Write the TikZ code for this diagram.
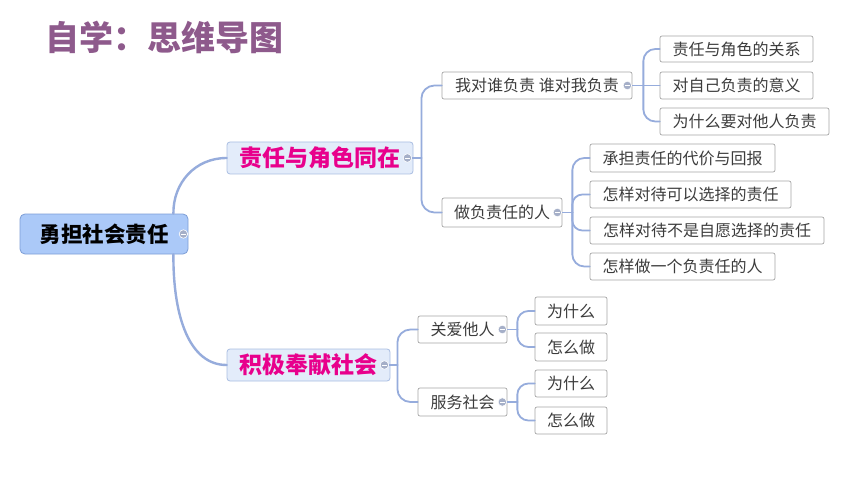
\documentclass[tikz,border=0pt]{standalone}
\usepackage{fontspec}
\setmainfont{Noto Sans CJK SC}
\usetikzlibrary{calc}
\definecolor{titlec}{RGB}{142,90,140}
\definecolor{mag}{RGB}{232,0,140}
\definecolor{rootfill}{RGB}{171,201,248}
\definecolor{rootdraw}{RGB}{125,158,214}
\definecolor{mainfill}{RGB}{227,236,250}
\definecolor{maindraw}{RGB}{170,190,226}
\definecolor{connc}{RGB}{150,172,220}
\definecolor{leafdraw}{RGB}{166,166,166}
\definecolor{leaftext}{RGB}{60,60,60}
\definecolor{knob}{RGB}{165,175,200}
\begin{document}
\begin{tikzpicture}[x=1pt,y=-1pt,
 rootbox/.style={draw=rootdraw, fill=rootfill, line width=0.8pt, rounded corners=5pt, inner sep=0pt, font=\fontsize{21.5}{24}\selectfont\bfseries, text=black},
 mainbox/.style={draw=maindraw, fill=mainfill, line width=0.8pt, rounded corners=3pt, inner sep=0pt, font=\fontsize{23}{26}\selectfont\bfseries, text=mag},
 leafbox/.style={draw=leafdraw, fill=white, line width=0.7pt, rounded corners=2pt, inner sep=0pt, font=\fontsize{16}{18}\selectfont, text=leaftext},
 knobc/.style={circle, fill=knob, draw=white, line width=0.6pt, minimum size=8.5pt, inner sep=0pt, path picture={\draw[white,line width=0.8pt] ($(path picture bounding box.west)+(2pt,0)$) -- ($(path picture bounding box.east)+(-2pt,0)$);}},
 link/.style={draw=connc, line width=1.8pt, line cap=round, rounded corners=13pt},
 mainlink/.style={draw=connc, line width=2.4pt, line cap=round},
]
\fill[white] (0,0) rectangle (860,484);
\useasboundingbox (0,0) rectangle (860,484);

\node[anchor=west, inner sep=0pt, text=titlec, font=\fontsize{34}{37}\selectfont\bfseries] (title) at (45,37) {自学：思维导图};

% boxes
\node[rootbox, minimum width=168, minimum height=40] (root) at (104,234) {勇担社会责任};
\node[mainbox, minimum width=186, minimum height=32] (m1) at (320,158) {责任与角色同在};
\node[mainbox, minimum width=163, minimum height=32] (m2) at (308.5,365) {积极奉献社会};

\node[leafbox, minimum width=190, minimum height=27] (a1) at (537,85.5) {我对谁负责 谁对我负责};
\node[leafbox, minimum width=120, minimum height=29] (a2) at (502,212.5) {做负责任的人};
\node[leafbox, minimum width=89, minimum height=27] (b1) at (462.5,329.5) {关爱他人};
\node[leafbox, minimum width=89, minimum height=28] (b2) at (462.5,402) {服务社会};

\node[leafbox, minimum width=153, minimum height=26] (l1) at (736.5,49) {责任与角色的关系};
\node[leafbox, minimum width=153, minimum height=27] (l2) at (736.5,85.5) {对自己负责的意义};
\node[leafbox, minimum width=169, minimum height=27] (l3) at (744.5,121.5) {为什么要对他人负责};
\node[leafbox, minimum width=185, minimum height=28] (l4) at (682.5,158) {承担责任的代价与回报};
\node[leafbox, minimum width=201, minimum height=27] (l5) at (690.5,194.5) {怎样对待可以选择的责任};
\node[leafbox, minimum width=234, minimum height=27] (l6) at (707,230.5) {怎样对待不是自愿选择的责任};
\node[leafbox, minimum width=185, minimum height=27] (l7) at (682.5,266.5) {怎样做一个负责任的人};
\node[leafbox, minimum width=72, minimum height=28] (l8) at (571,311) {为什么};
\node[leafbox, minimum width=72, minimum height=28] (l9) at (571,347) {怎么做};
\node[leafbox, minimum width=72, minimum height=27] (l10) at (571,383.5) {为什么};
\node[leafbox, minimum width=72, minimum height=27] (l11) at (571,420.5) {怎么做};

% knob positions and forks
\coordinate (kroot) at ($(root.east)+(-5,0)$);
\coordinate (km1) at ($(m1.east)+(-6,0)$);
\coordinate (km2) at ($(m2.east)+(-6,0)$);
\coordinate (ka1) at ($(a1.east)+(-5,0)$);
\coordinate (ka2) at ($(a2.east)+(-5,0)$);
\coordinate (kb1) at ($(b1.east)+(-5,0)$);
\coordinate (kb2) at ($(b2.east)+(-5,0)$);
\coordinate (f1) at ($(km1)+(14,0)$);
\coordinate (f2) at ($(km2)+(13,0)$);
\coordinate (fa1) at ($(ka1)+(16,0)$);
\coordinate (fa2) at ($(ka2)+(15,0)$);
\coordinate (fb1) at ($(kb1)+(15,0)$);
\coordinate (fb2) at ($(kb2)+(15,0)$);

% root connectors
\draw[mainlink] ($(root.north east)+(-15,0)$) .. controls (173,183) and (195,158) .. (m1.west);
\draw[mainlink] ($(root.south east)+(-15,0)$) .. controls (173,318) and (190,365) .. (m2.west);

% level 2
\draw[link] (km1) -- (f1);
\draw[link] (f1) |- (a1.west);
\draw[link] (f1) |- (a2.west);
\draw[link] (km2) -- (f2);
\draw[link] (f2) |- (b1.west);
\draw[link] (f2) |- (b2.west);

% level 3
\draw[link] (ka1) -- (l2.west);
\draw[link, rounded corners=12pt] (fa1) |- (l1.west);
\draw[link, rounded corners=12pt] (fa1) |- (l3.west);
\draw[link] (ka2) -- (fa2);
\draw[link, rounded corners=12pt] (fa2) |- (l4.west);
\draw[link, rounded corners=10pt] (fa2) |- (l5.west);
\draw[link, rounded corners=10pt] (fa2) |- (l6.west);
\draw[link, rounded corners=12pt] (fa2) |- (l7.west);
\draw[link] (kb1) -- (fb1);
\draw[link, rounded corners=11pt] (fb1) |- (l8.west);
\draw[link, rounded corners=11pt] (fb1) |- (l9.west);
\draw[link] (kb2) -- (fb2);
\draw[link, rounded corners=11pt] (fb2) |- (l10.west);
\draw[link, rounded corners=11pt] (fb2) |- (l11.west);

% knobs
\foreach \k in {kroot,km1,km2,ka1,ka2,kb1,kb2}
  \node[knobc] (n\k) at (\k) {};
\end{tikzpicture}
\end{document}
